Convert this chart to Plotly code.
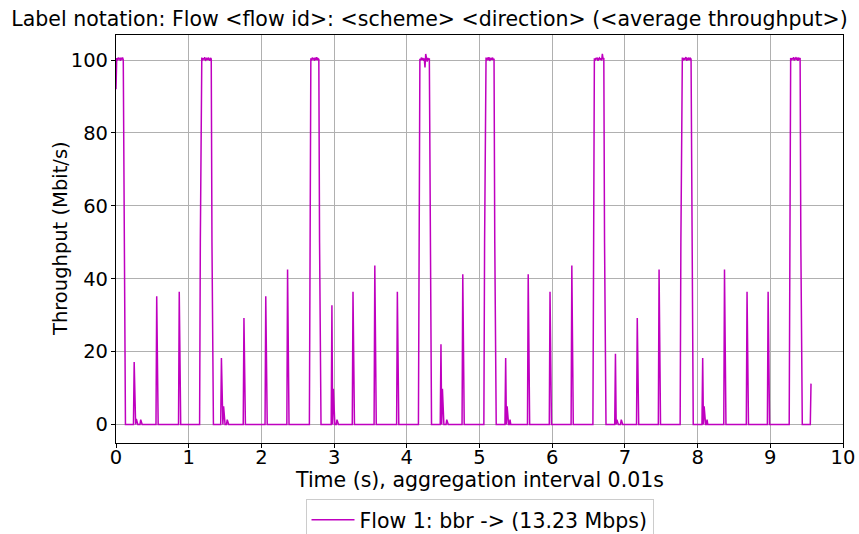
import numpy as np
import plotly.graph_objects as go

# ---- data (aggregation interval 0.01 s) ----
dt = 0.01
t_last = 9.56

# plateaus at ~100 Mbit/s: time of first top sample and the top sample values
plateau_first_top = [0.00, 1.17, 2.68, 4.18, 5.08, 6.58, 7.78, 9.28]
plateau_tops = [
    [92.0, 100.6, 99.9, 100.7, 100.2, 100.6, 99.8, 100.5, 100.3, 100.7, 100.1],
    [100.3, 100.7, 99.9, 100.5, 100.2, 100.8, 99.8, 100.4, 100.6, 100.0, 100.7, 100.2, 99.9, 100.6, 100.3],
    [100.5, 99.9, 100.7, 100.2, 100.6, 99.8, 100.5, 100.3, 100.8, 100.0, 100.4, 100.2],
    [100.4, 99.9, 100.7, 100.1, 100.6, 99.8, 100.5, 98.0, 101.7, 100.2, 99.6, 100.6, 100.1, 100.5],
    [100.2, 100.7, 99.9, 100.5, 100.3, 100.8, 99.8, 100.4, 100.6, 100.1, 100.7, 100.0, 100.4],
    [100.5, 99.9, 100.6, 100.2, 100.7, 99.8, 100.4, 100.6, 100.1, 100.5, 99.9, 101.7, 100.3, 100.6],
    [100.3, 100.7, 99.9, 100.6, 100.1, 100.5, 100.8, 99.8, 100.4, 100.2, 100.7, 100.0, 100.5, 100.3],
    [100.6, 100.0, 100.5, 100.2, 100.8, 99.9, 100.4, 100.6, 100.1, 100.7, 99.8, 100.5, 100.3, 100.6],
]
ramp_values = [50.0, 50.0, 50.0, 50.0, 50.0, 50.0, 50.0, 50.0]

# single-sample spikes
spike_times = [0.25, 0.56, 0.87, 1.45, 1.76, 2.06, 2.36, 2.97, 3.26, 3.56, 3.87, 4.47,
               4.77, 5.36, 5.67, 5.97, 6.27, 6.87, 7.17, 7.47, 8.07, 8.37, 8.68, 8.97]
spike_heights = [17.1, 35.2, 36.4, 18.2, 29.2, 35.2, 42.5, 32.7, 36.4, 43.6, 36.4, 22.0,
                 41.2, 18.2, 41.2, 36.4, 43.6, 19.4, 29.2, 42.5, 18.2, 42.5, 36.4, 36.4]

# small after-spikes
small_times = [0.28, 0.34, 1.48, 1.53, 2.99, 3.04, 4.49, 4.55, 5.38, 5.42, 6.89, 6.95, 8.09, 8.13, 9.56]
small_heights = [1.5, 1.3, 5.0, 1.3, 9.8, 1.3, 9.8, 1.3, 5.0, 1.3, 1.3, 1.3, 5.0, 1.3, 11.2]

x_ticks = [0, 1, 2, 3, 4, 5, 6, 7, 8, 9, 10]
y_ticks = [0, 20, 40, 60, 80, 100]

# ---- build the sampled series ----
n = int(round(t_last / dt)) + 1
times = np.round(np.arange(n) * dt, 2)
values = np.zeros(n)
for t0, tops, ramp in zip(plateau_first_top, plateau_tops, ramp_values):
    i0 = int(round(t0 / dt))
    if i0 > 0:
        values[i0 - 1] = ramp
    values[i0:i0 + len(tops)] = tops
    values[i0 + len(tops)] = ramp
for t, h in zip(spike_times, spike_heights):
    values[int(round(t / dt))] = h
for t, h in zip(small_times, small_heights):
    values[int(round(t / dt))] = h

FONT = "DejaVu Sans"
TICK_SIZE = 19.5
TEXT_SIZE = 20.5
W, H = 859, 534
L, R, T, B = 116, 16, 35, 91
plot_h = H - T - B
plot_w = W - L - R

fig = go.Figure()
fig.add_trace(go.Scatter(
    x=times, y=values, mode="lines",
    line=dict(color="#bf00bf", width=1.5),
    name="Flow 1: bbr -> (13.23 Mbps)",
))

axis_common = dict(
    showline=True, linecolor="black", linewidth=1.2, mirror=True,
    ticks="outside", ticklen=4, tickcolor="black", tickwidth=1,
    showgrid=True, gridcolor="#b0b0b0", gridwidth=1,
    zeroline=False, automargin=False,
    tickfont=dict(family=FONT, size=TICK_SIZE, color="black"),
)
fig.update_xaxes(range=[0, 10], tickmode="array", tickvals=x_ticks,
                 ticktext=[str(v) for v in x_ticks], ticklabelstandoff=-8,
                 **axis_common)
fig.update_yaxes(range=[-5.1, 106.9], tickmode="array", tickvals=y_ticks,
                 ticktext=[str(v) for v in y_ticks], ticklabelstandoff=-1,
                 **axis_common)

fig.add_annotation(text="Time (s), aggregation interval 0.01s",
                   xref="paper", yref="paper", x=0.5, y=-(480 - (H - B)) / plot_h,
                   xanchor="center", yanchor="middle", showarrow=False,
                   font=dict(family=FONT, size=TEXT_SIZE, color="black"))
fig.add_annotation(text="Throughput (Mbit/s)", textangle=-90,
                   xref="paper", yref="paper", x=-(L - 60) / plot_w, y=0.5,
                   xanchor="center", yanchor="middle", showarrow=False,
                   font=dict(family=FONT, size=19.5, color="black"))

fig.update_layout(
    width=W, height=H,
    margin=dict(l=L, r=R, t=T, b=B, autoexpand=False),
    paper_bgcolor="white", plot_bgcolor="white",
    font=dict(family=FONT, size=TEXT_SIZE, color="black"),
    title=dict(text="Label notation: Flow <flow id>: <scheme> <direction> (<average throughput>)",
               x=0.5, xref="container", xanchor="center",
               y=1 - 19 / H, yref="container", yanchor="middle",
               font=dict(family=FONT, size=TEXT_SIZE, color="black"), automargin=False),
    showlegend=True,
    legend=dict(orientation="h", x=0.5, xanchor="center", xref="paper",
                y=-(499 - (H - B)) / plot_h, yanchor="top",
                bordercolor="#cccccc", borderwidth=1, itemwidth=43,
                font=dict(family=FONT, size=TEXT_SIZE, color="black"), bgcolor="white"),
)
fig.write_html("out.html", config={"displayModeBar": False},
               post_script="document.body.style.margin='0px';")
